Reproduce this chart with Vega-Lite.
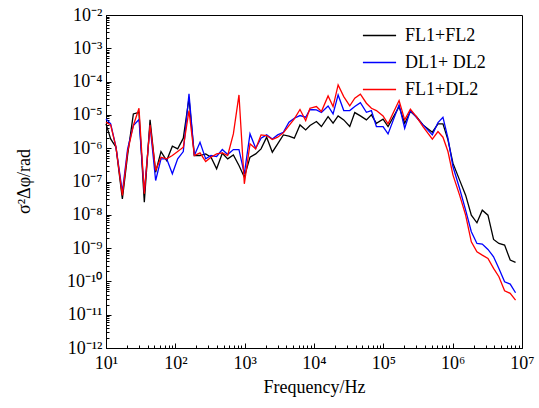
{
"$schema": "https://vega.github.io/schema/vega-lite/v6.json",
"width": 416, "height": 333,
"autosize": {"type": "none"},
"padding": {"left": 106, "top": 15, "right": 17, "bottom": 60},
"background": "white",
"config": {
  "font": "Liberation Serif",
  "view": {"stroke": "black", "strokeWidth": 1},
  "axis": {"domainColor": "black", "tickColor": "black", "labelColor": "black", "titleColor": "black", "grid": false, "labelFontSize": 18, "titleFontSize": 18, "titleFontWeight": "normal", "labelFont": "Liberation Serif", "titleFont": "Liberation Serif", "labelOverlap": false, "labelFlush": false}
},
"data": {"values": [
{"f":10,"s":5.37e-6,"c":"FL1+FL2"},{"f":11.67,"s":1.9e-6,"c":"FL1+FL2"},{"f":13.93,"s":1.07e-6,"c":"FL1+FL2"},{"f":17.22,"s":3.02e-8,"c":"FL1+FL2"},{"f":20.5,"s":6.31e-7,"c":"FL1+FL2"},{"f":24.8,"s":1.07e-5,"c":"FL1+FL2"},{"f":29.9,"s":1.2e-5,"c":"FL1+FL2"},{"f":35.7,"s":2.4e-8,"c":"FL1+FL2"},{"f":43.2,"s":7.08e-6,"c":"FL1+FL2"},{"f":52.0,"s":1.9e-7,"c":"FL1+FL2"},{"f":62.1,"s":7.94e-7,"c":"FL1+FL2"},{"f":75.0,"s":4.27e-7,"c":"FL1+FL2"},{"f":90.6,"s":1.15e-6,"c":"FL1+FL2"},{"f":108.1,"s":9.55e-7,"c":"FL1+FL2"},{"f":130.3,"s":2.0e-6,"c":"FL1+FL2"},{"f":157.4,"s":3.16e-5,"c":"FL1+FL2"},{"f":187.9,"s":6.03e-7,"c":"FL1+FL2"},{"f":227,"s":6.03e-7,"c":"FL1+FL2"},{"f":274,"s":6.76e-7,"c":"FL1+FL2"},{"f":327,"s":5.37e-7,"c":"FL1+FL2"},{"f":394,"s":2.4e-7,"c":"FL1+FL2"},{"f":476,"s":7.08e-7,"c":"FL1+FL2"},{"f":569,"s":4.79e-7,"c":"FL1+FL2"},{"f":687,"s":6.31e-7,"c":"FL1+FL2"},{"f":828,"s":3.02e-7,"c":"FL1+FL2"},{"f":989,"s":1.35e-7,"c":"FL1+FL2"},{"f":1194,"s":5.37e-7,"c":"FL1+FL2"},{"f":1442,"s":6.76e-7,"c":"FL1+FL2"},{"f":1722,"s":9.55e-7,"c":"FL1+FL2"},{"f":2075,"s":2.14e-6,"c":"FL1+FL2"},{"f":2506,"s":7.59e-7,"c":"FL1+FL2"},{"f":2992,"s":1.35e-6,"c":"FL1+FL2"},{"f":3614,"s":2.51e-6,"c":"FL1+FL2"},{"f":4355,"s":2.29e-6,"c":"FL1+FL2"},{"f":5200,"s":2.0e-6,"c":"FL1+FL2"},{"f":6281,"s":5.01e-6,"c":"FL1+FL2"},{"f":7586,"s":3.55e-6,"c":"FL1+FL2"},{"f":8750,"s":4.79e-6,"c":"FL1+FL2"},
{"f":10840,"s":6.31e-6,"c":"FL1+FL2"},{"f":12790,"s":4.47e-6,"c":"FL1+FL2"},{"f":15960,"s":8.91e-6,"c":"FL1+FL2"},{"f":18840,"s":5.62e-6,"c":"FL1+FL2"},{"f":22280,"s":9.33e-6,"c":"FL1+FL2"},{"f":26850,"s":7.08e-6,"c":"FL1+FL2"},{"f":32810,"s":4.47e-6,"c":"FL1+FL2"},{"f":38730,"s":1.175e-5,"c":"FL1+FL2"},{"f":46670,"s":9.33e-6,"c":"FL1+FL2"},{"f":57020,"s":7.08e-6,"c":"FL1+FL2"},{"f":67300,"s":1.0e-5,"c":"FL1+FL2"},{"f":79430,"s":5.62e-6,"c":"FL1+FL2"},{"f":99080,"s":7.41e-6,"c":"FL1+FL2"},{"f":116950,"s":4.47e-6,"c":"FL1+FL2"},{"f":168700,"s":1.78e-5,"c":"FL1+FL2"},
{"f":203200,"s":5.62e-6,"c":"FL1+FL2"},{"f":245500,"s":1.26e-5,"c":"FL1+FL2"},{"f":299200,"s":8.91e-6,"c":"FL1+FL2"},{"f":373300,"s":5.01e-6,"c":"FL1+FL2"},{"f":509300,"s":3.02e-6,"c":"FL1+FL2"},{"f":613800,"s":5.37e-6,"c":"FL1+FL2"},{"f":724400,"s":5.37e-6,"c":"FL1+FL2"},{"f":855100,"s":1.78e-6,"c":"FL1+FL2"},{"f":1009000,"s":3.55e-7,"c":"FL1+FL2"},{"f":1259000,"s":1.1e-7,"c":"FL1+FL2"},{"f":1538000,"s":3.89e-8,"c":"FL1+FL2"},{"f":1858000,"s":9.77e-9,"c":"FL1+FL2"},{"f":2239000,"s":5.75e-9,"c":"FL1+FL2"},{"f":2673000,"s":1.38e-8,"c":"FL1+FL2"},{"f":3228000,"s":9.77e-9,"c":"FL1+FL2"},{"f":3890000,"s":1.82e-9,"c":"FL1+FL2"},{"f":4645000,"s":1.38e-9,"c":"FL1+FL2"},{"f":5610000,"s":1.23e-9,"c":"FL1+FL2"},{"f":6761000,"s":4.37e-10,"c":"FL1+FL2"},{"f":8072000,"s":3.72e-10,"c":"FL1+FL2"},

{"f":10,"s":7.59e-6,"c":"DL1+ DL2"},{"f":11.67,"s":5.37e-6,"c":"DL1+ DL2"},{"f":13.93,"s":1.07e-6,"c":"DL1+ DL2"},{"f":17.22,"s":4.79e-8,"c":"DL1+ DL2"},{"f":20.5,"s":9.55e-7,"c":"DL1+ DL2"},{"f":24.8,"s":4.79e-6,"c":"DL1+ DL2"},{"f":29.9,"s":7.24e-6,"c":"DL1+ DL2"},{"f":35.7,"s":4.79e-8,"c":"DL1+ DL2"},{"f":43.2,"s":4.79e-6,"c":"DL1+ DL2"},{"f":52.0,"s":1.07e-7,"c":"DL1+ DL2"},{"f":62.1,"s":4.79e-7,"c":"DL1+ DL2"},{"f":75.0,"s":4.79e-7,"c":"DL1+ DL2"},{"f":90.6,"s":1.7e-7,"c":"DL1+ DL2"},{"f":108.1,"s":4.79e-7,"c":"DL1+ DL2"},{"f":130.3,"s":7.94e-7,"c":"DL1+ DL2"},{"f":157.4,"s":4.27e-5,"c":"DL1+ DL2"},{"f":187.9,"s":6.03e-7,"c":"DL1+ DL2"},{"f":227,"s":1.51e-6,"c":"DL1+ DL2"},{"f":274,"s":4.79e-7,"c":"DL1+ DL2"},{"f":327,"s":6.03e-7,"c":"DL1+ DL2"},{"f":394,"s":5.62e-7,"c":"DL1+ DL2"},{"f":476,"s":9.12e-7,"c":"DL1+ DL2"},{"f":569,"s":6.46e-7,"c":"DL1+ DL2"},{"f":687,"s":9.12e-7,"c":"DL1+ DL2"},{"f":828,"s":9.12e-7,"c":"DL1+ DL2"},{"f":989,"s":1.7e-7,"c":"DL1+ DL2"},{"f":1194,"s":2.69e-6,"c":"DL1+ DL2"},{"f":1442,"s":1.0e-6,"c":"DL1+ DL2"},{"f":1722,"s":2.0e-6,"c":"DL1+ DL2"},{"f":2075,"s":2.51e-6,"c":"DL1+ DL2"},{"f":2506,"s":1.9e-6,"c":"DL1+ DL2"},{"f":2992,"s":2.51e-6,"c":"DL1+ DL2"},{"f":3614,"s":3.02e-6,"c":"DL1+ DL2"},{"f":4355,"s":6.03e-6,"c":"DL1+ DL2"},{"f":5200,"s":7.94e-6,"c":"DL1+ DL2"},{"f":6281,"s":9.55e-6,"c":"DL1+ DL2"},{"f":7586,"s":8.51e-6,"c":"DL1+ DL2"},{"f":8750,"s":1.45e-5,"c":"DL1+ DL2"},
{"f":10840,"s":1.41e-5,"c":"DL1+ DL2"},{"f":12790,"s":1.175e-5,"c":"DL1+ DL2"},{"f":15960,"s":1.86e-5,"c":"DL1+ DL2"},{"f":18840,"s":1.07e-5,"c":"DL1+ DL2"},{"f":22280,"s":3.98e-5,"c":"DL1+ DL2"},{"f":26850,"s":1.35e-5,"c":"DL1+ DL2"},{"f":32810,"s":1.35e-5,"c":"DL1+ DL2"},{"f":38730,"s":1.78e-5,"c":"DL1+ DL2"},{"f":46670,"s":2.34e-5,"c":"DL1+ DL2"},{"f":57020,"s":1.2e-5,"c":"DL1+ DL2"},{"f":67300,"s":1.35e-5,"c":"DL1+ DL2"},{"f":79430,"s":4.47e-6,"c":"DL1+ DL2"},{"f":99080,"s":4.47e-6,"c":"DL1+ DL2"},{"f":116950,"s":2.69e-6,"c":"DL1+ DL2"},{"f":168700,"s":2.0e-5,"c":"DL1+ DL2"},
{"f":203200,"s":3.98e-6,"c":"DL1+ DL2"},{"f":245500,"s":1.35e-5,"c":"DL1+ DL2"},{"f":299200,"s":8.51e-6,"c":"DL1+ DL2"},{"f":373300,"s":5.01e-6,"c":"DL1+ DL2"},{"f":509300,"s":2.51e-6,"c":"DL1+ DL2"},{"f":613800,"s":5.89e-6,"c":"DL1+ DL2"},{"f":724400,"s":8.51e-6,"c":"DL1+ DL2"},{"f":855100,"s":2.0e-6,"c":"DL1+ DL2"},{"f":1009000,"s":2.82e-7,"c":"DL1+ DL2"},{"f":1259000,"s":6.17e-8,"c":"DL1+ DL2"},{"f":1538000,"s":1.38e-8,"c":"DL1+ DL2"},{"f":1858000,"s":3.09e-9,"c":"DL1+ DL2"},{"f":2239000,"s":1.38e-9,"c":"DL1+ DL2"},{"f":2673000,"s":1.32e-9,"c":"DL1+ DL2"},{"f":3228000,"s":9.12e-10,"c":"DL1+ DL2"},{"f":3890000,"s":5.5e-10,"c":"DL1+ DL2"},{"f":4645000,"s":2.45e-10,"c":"DL1+ DL2"},{"f":5610000,"s":9.77e-11,"c":"DL1+ DL2"},{"f":6761000,"s":8.32e-11,"c":"DL1+ DL2"},{"f":8072000,"s":4.57e-11,"c":"DL1+ DL2"},

{"f":10,"s":6.03e-6,"c":"FL1+DL2"},{"f":11.67,"s":5.01e-6,"c":"FL1+DL2"},{"f":13.93,"s":1.07e-6,"c":"FL1+DL2"},{"f":17.22,"s":3.8e-8,"c":"FL1+DL2"},{"f":20.5,"s":7.94e-7,"c":"FL1+DL2"},{"f":24.8,"s":4.79e-6,"c":"FL1+DL2"},{"f":29.9,"s":1.585e-5,"c":"FL1+DL2"},{"f":35.7,"s":4.27e-8,"c":"FL1+DL2"},{"f":43.2,"s":5.01e-6,"c":"FL1+DL2"},{"f":52.0,"s":2.14e-7,"c":"FL1+DL2"},{"f":62.1,"s":5.37e-7,"c":"FL1+DL2"},{"f":75.0,"s":4.79e-7,"c":"FL1+DL2"},{"f":90.6,"s":6.03e-7,"c":"FL1+DL2"},{"f":108.1,"s":7.94e-7,"c":"FL1+DL2"},{"f":130.3,"s":1.07e-6,"c":"FL1+DL2"},{"f":157.4,"s":1.35e-5,"c":"FL1+DL2"},{"f":187.9,"s":6.03e-7,"c":"FL1+DL2"},{"f":227,"s":7.24e-7,"c":"FL1+DL2"},{"f":274,"s":3.98e-7,"c":"FL1+DL2"},{"f":327,"s":5.37e-7,"c":"FL1+DL2"},{"f":394,"s":6.76e-7,"c":"FL1+DL2"},{"f":476,"s":7.24e-7,"c":"FL1+DL2"},{"f":569,"s":6.03e-7,"c":"FL1+DL2"},{"f":687,"s":2.69e-6,"c":"FL1+DL2"},{"f":828,"s":3.98e-5,"c":"FL1+DL2"},{"f":989,"s":8.51e-8,"c":"FL1+DL2"},{"f":1194,"s":1.35e-6,"c":"FL1+DL2"},{"f":1442,"s":9.55e-7,"c":"FL1+DL2"},{"f":1722,"s":2.51e-6,"c":"FL1+DL2"},{"f":2075,"s":2.4e-6,"c":"FL1+DL2"},{"f":2506,"s":1.82e-6,"c":"FL1+DL2"},{"f":2992,"s":2.14e-6,"c":"FL1+DL2"},{"f":3614,"s":2.88e-6,"c":"FL1+DL2"},{"f":4355,"s":4.79e-6,"c":"FL1+DL2"},{"f":5200,"s":7.59e-6,"c":"FL1+DL2"},{"f":6281,"s":1.45e-5,"c":"FL1+DL2"},{"f":7586,"s":6.76e-6,"c":"FL1+DL2"},{"f":8750,"s":1.585e-5,"c":"FL1+DL2"},
{"f":10840,"s":1.78e-5,"c":"FL1+DL2"},{"f":12790,"s":1.26e-5,"c":"FL1+DL2"},{"f":15960,"s":3.72e-5,"c":"FL1+DL2"},{"f":18840,"s":1.78e-5,"c":"FL1+DL2"},{"f":22280,"s":7.94e-5,"c":"FL1+DL2"},{"f":26850,"s":3.55e-5,"c":"FL1+DL2"},{"f":32810,"s":1.86e-5,"c":"FL1+DL2"},{"f":38730,"s":3.16e-5,"c":"FL1+DL2"},{"f":46670,"s":4.17e-5,"c":"FL1+DL2"},{"f":57020,"s":2.24e-5,"c":"FL1+DL2"},{"f":67300,"s":1.585e-5,"c":"FL1+DL2"},{"f":79430,"s":1.35e-5,"c":"FL1+DL2"},{"f":99080,"s":9.33e-6,"c":"FL1+DL2"},{"f":116950,"s":5.37e-6,"c":"FL1+DL2"},{"f":168700,"s":2.69e-5,"c":"FL1+DL2"},
{"f":203200,"s":7.08e-6,"c":"FL1+DL2"},{"f":245500,"s":1.48e-5,"c":"FL1+DL2"},{"f":299200,"s":8.91e-6,"c":"FL1+DL2"},{"f":373300,"s":4.47e-6,"c":"FL1+DL2"},{"f":509300,"s":1.86e-6,"c":"FL1+DL2"},{"f":613800,"s":3.16e-6,"c":"FL1+DL2"},{"f":724400,"s":2.14e-6,"c":"FL1+DL2"},{"f":855100,"s":7.94e-7,"c":"FL1+DL2"},{"f":1009000,"s":1.585e-7,"c":"FL1+DL2"},{"f":1259000,"s":3.89e-8,"c":"FL1+DL2"},{"f":1538000,"s":9.77e-9,"c":"FL1+DL2"},{"f":1858000,"s":1.55e-9,"c":"FL1+DL2"},{"f":2239000,"s":7.76e-10,"c":"FL1+DL2"},{"f":2673000,"s":6.17e-10,"c":"FL1+DL2"},{"f":3228000,"s":4.9e-10,"c":"FL1+DL2"},{"f":3890000,"s":2.45e-10,"c":"FL1+DL2"},{"f":4645000,"s":1.38e-10,"c":"FL1+DL2"},{"f":5610000,"s":5.25e-11,"c":"FL1+DL2"},{"f":6761000,"s":4.37e-11,"c":"FL1+DL2"},{"f":8072000,"s":2.75e-11,"c":"FL1+DL2"}
]},
"mark": {"type": "line", "strokeWidth": 1.3},
"encoding": {
  "x": {"field": "f", "type": "quantitative",
    "scale": {"type": "log", "domain": [10, 10000000], "nice": false},
    "axis": {"title": "Frequency/Hz", "tickCount": 30,
      "labelExpr": "abs(log(datum.value)/LN10 - round(log(datum.value)/LN10)) < 0.01 ? ['10¹','10²','10³','10⁴','10⁵','10⁶','10⁷'][round(log(datum.value)/LN10) - 1] : ''",
      "tickSize": {"condition": {"test": "abs(log(datum.value)/LN10 - round(log(datum.value)/LN10)) < 0.01", "value": -5}, "value": -3},
      "labelPadding": 11, "titleY": 44, "titleBaseline": "alphabetic"}},
  "y": {"field": "s", "type": "quantitative",
    "scale": {"type": "log", "domain": [1e-12, 1e-2], "nice": false},
    "axis": {"title": "σ²Δφ/rad", "tickCount": 30,
      "labelExpr": "abs(log(datum.value)/LN10 - round(log(datum.value)/LN10)) < 0.01 ? ['10⁻²','10⁻³','10⁻⁴','10⁻⁵','10⁻⁶','10⁻⁷','10⁻⁸','10⁻⁹','10⁻¹⁰','10⁻¹¹','10⁻¹²'][-round(log(datum.value)/LN10) - 2] : ''",
      "tickSize": {"condition": {"test": "abs(log(datum.value)/LN10 - round(log(datum.value)/LN10)) < 0.01", "value": -5}, "value": -3},
      "labelPadding": 9, "titleX": -82, "titleY": 166, "titleBaseline": "middle", "titleAlign": "center", "titleAngle": -90}},
  "color": {"field": "c", "type": "nominal",
    "scale": {"domain": ["FL1+FL2", "DL1+ DL2", "FL1+DL2"], "range": ["#000000", "#0000ff", "#ff0000"]},
    "legend": {"title": null, "orient": "none", "legendX": 256, "legendY": 3, "symbolType": "stroke", "symbolSize": 1100, "symbolStrokeWidth": 1.3, "labelFontSize": 18, "labelFont": "Liberation Serif", "rowPadding": -12, "labelOffset": 8, "padding": 0, "labelColor": "black"}}
}
}
